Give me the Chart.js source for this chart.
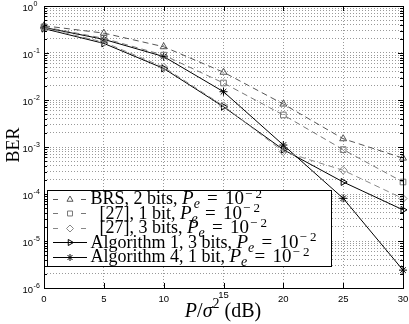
<!DOCTYPE html>
<html><head><meta charset="utf-8">
<script src="https://cdn.jsdelivr.net/npm/chart.js@4/dist/chart.umd.min.js"></script>
<style>html,body{margin:0;padding:0;background:#fff;}canvas{display:block;}</style>
</head><body>
<canvas id="c" width="409" height="324"></canvas>
<script>
// ---- data ----
const snrDb = [0, 5, 10, 15, 20, 25, 30];
const xTickValues = [0, 5, 10, 15, 20, 25, 30];
const yDecades = [0, -1, -2, -3, -4, -5, -6];
const seriesLabels = ['BRS, 2 bits, ', '  [27], 1 bit, ', '  [27], 3 bits, ', 'Algorithm 1, 3 bits, ', 'Algorithm 4, 1 bit, '];
const berBRS2 = [0.38, 0.265, 0.136, 0.039, 0.0082, 0.0015, 0.00058];
const ber27One = [0.36, 0.205, 0.09, 0.023, 0.0048, 0.00088, 0.00018];
const ber27Three = [0.34, 0.17, 0.05, 0.0075, 0.0008, 0.00032, 0.00008];
const berAlg1 = [0.33, 0.16, 0.047, 0.0072, 0.00088, 0.00018, 0.000046];
const berAlg4 = [0.35, 0.195, 0.084, 0.015, 0.0011, 0.000081, 0.0000024];

const pts = arr => snrDb.map((x, i) => ({x, y: arr[i]}));
const styles = [
  {color:'#555', dash:[6,4], pointStyle:'triangle', rotation:0},
  {color:'#777', dash:[6,4], pointStyle:'rect', rotation:0},
  {color:'#888', dash:[6,4], pointStyle:'rectRot', rotation:0},
  {color:'#000', dash:[], pointStyle:'triangle', rotation:90},
  {color:'#000', dash:[], pointStyle:'star', rotation:0},
];
const allData = [berBRS2, ber27One, ber27Three, berAlg1, berAlg4];
const datasets = allData.map((d, i) => ({
  label: seriesLabels[i],
  data: pts(d),
  borderColor: styles[i].color,
  borderWidth: 1,
  borderDash: styles[i].dash,
  pointStyle: styles[i].pointStyle,
  pointRotation: styles[i].rotation,
  pointRadius: 4,
  pointBorderWidth: 1,
  pointBorderColor: styles[i].color,
  pointBackgroundColor: 'rgba(0,0,0,0)',
  fill: false,
  tension: 0,
  clip: false
}));

const SERIF = '"Liberation Serif", "Times New Roman", serif';
const SANS = '"Liberation Sans", Arial, sans-serif';

function drawPe(ctx, x, yb, size){
  ctx.textAlign = 'left'; ctx.textBaseline = 'alphabetic';
  ctx.font = `italic ${size}px ${SERIF}`; ctx.fillText('P', x, yb); x += ctx.measureText('P').width;
  ctx.font = `italic ${Math.round(size*0.72)}px ${SERIF}`; ctx.fillText('e', x, yb + 4); x += ctx.measureText('e').width;
  x += size*0.38;
  ctx.font = `${size}px ${SERIF}`; ctx.fillText('=', x, yb); x += ctx.measureText('=').width + size*0.38;
  ctx.fillText('10', x, yb); x += ctx.measureText('10').width;
  ctx.font = `13px ${SERIF}`; ctx.fillText('\u2212 2', x + 1, yb - 6.5);
}

function marker(ctx, st, x, y){
  ctx.save();
  ctx.setLineDash([]);
  ctx.strokeStyle = st.color; ctx.fillStyle = 'rgba(0,0,0,0)'; ctx.lineWidth = 1;
  Chart.helpers.drawPoint(ctx, {pointStyle: st.pointStyle, rotation: st.rotation, radius: 3.5, borderWidth: 1}, x, y);
  ctx.restore();
}

const decor = {
  id: 'decor',
  afterDatasetsDraw(chart){
    const {ctx, chartArea: a, scales: {x, y}} = chart;
    ctx.save();
    ctx.fillStyle = '#000'; ctx.strokeStyle = '#000'; ctx.lineWidth = 1; ctx.setLineDash([]);
    const L = Math.round(a.left), R = Math.round(a.right), T = Math.round(a.top), B = Math.round(a.bottom);
    // tick marks
    ctx.beginPath();
    for (const v of xTickValues){
      const px = Math.round(x.getPixelForValue(v)) + 0.5;
      ctx.moveTo(px, B); ctx.lineTo(px, B - 5);
      ctx.moveTo(px, T); ctx.lineTo(px, T + 5);
    }
    for (const e of yDecades){
      for (let m = 1; m <= 9; m++){
        const v = m * Math.pow(10, e);
        if (v > 1.0001) continue;
        const py = Math.round(y.getPixelForValue(v)) + 0.5;
        const len = m === 1 ? 5 : 3;
        ctx.moveTo(L, py); ctx.lineTo(L + len, py);
        ctx.moveTo(R, py); ctx.lineTo(R - len, py);
      }
    }
    ctx.stroke();
    // box
    ctx.strokeRect(L + 0.5, T + 0.5, R - L, B - T);
    // x tick labels
    ctx.font = `9.5px ${SANS}`; ctx.textAlign = 'center'; ctx.textBaseline = 'alphabetic';
    for (const v of xTickValues){
      const px = x.getPixelForValue(v);
      ctx.fillText(String(v), px, v === 15 ? 298 : 302);
    }
    // y tick labels
    for (const e of yDecades){
      const py = y.getPixelForValue(Math.pow(10, e));
      ctx.textAlign = 'left';
      ctx.font = `9.5px ${SANS}`;
      ctx.fillText('10', 22.5, py + 5);
      const w = ctx.measureText('10').width;
      ctx.font = `7px ${SANS}`;
      ctx.fillText(e === 0 ? '0' : '-' + (-e), 22.5 + w + 0.5, py);
    }
    // axis titles
    ctx.save();
    ctx.translate(18.5, 145); ctx.rotate(-Math.PI/2);
    ctx.font = `18px ${SERIF}`; ctx.textAlign = 'center';
    ctx.fillText('BER', 0, 0);
    ctx.restore();
    // x title: P/σ² (dB)
    {
      const parts = [
        {t:'P', f:`italic 20px ${SERIF}`, dy:0},
        {t:'/', f:`20px ${SERIF}`, dy:0},
        {t:'\u03C3', f:`italic 20px ${SERIF}`, dy:0},
        {t:'2', f:`14px ${SERIF}`, dy:-9},
        {t:' (dB)', f:`20px ${SERIF}`, dy:0},
      ];
      let tw = 0;
      for (const p of parts){ ctx.font = p.f; p.w = ctx.measureText(p.t).width; tw += p.w; }
      let cx = 223 - tw/2; ctx.textAlign = 'left';
      for (const p of parts){ ctx.font = p.f; ctx.fillText(p.t, cx, 317 + p.dy); cx += p.w; }
    }
    // legend
    const lb = {l: 47.5, t: 190.5, r: 331.5, b: 266.5};
    ctx.fillStyle = '#fff';
    ctx.fillRect(lb.l, lb.t, lb.r - lb.l, lb.b - lb.t);
    ctx.strokeStyle = '#000';
    ctx.strokeRect(lb.l, lb.t, lb.r - lb.l, lb.b - lb.t);
    for (let i = 0; i < datasets.length; i++){
      const st = styles[i];
      const base = 204 + i * 14.5;
      const ly = Math.round(base - 5.5) + 0.5;
      ctx.strokeStyle = st.color; ctx.lineWidth = 1;
      ctx.beginPath();
      if (st.dash.length){
        ctx.moveTo(53, ly); ctx.lineTo(58, ly);
        ctx.moveTo(81, ly); ctx.lineTo(86, ly);
      } else {
        ctx.moveTo(53, ly); ctx.lineTo(87, ly);
      }
      ctx.stroke();
      marker(ctx, st, 70, ly);
      ctx.fillStyle = '#000';
      ctx.font = `18px ${SERIF}`; ctx.textAlign = 'left';
      ctx.fillText(seriesLabels[i], 90.5, base);
      const w = ctx.measureText(seriesLabels[i]).width;
      drawPe(ctx, 90.5 + w, base, 19);
    }
    ctx.restore();
  }
};

const minorTicks = [];
for (const e of yDecades){ for (let m = 1; m <= 9; m++){ const v = m*Math.pow(10,e); if (v <= 1.0001) minorTicks.push(v); } }

new Chart(document.getElementById('c'), {
  type: 'line',
  data: { datasets },
  options: {
    responsive: false,
    animation: false,
    devicePixelRatio: 1,
    layout: { padding: {left: 44, right: 6, top: 6, bottom: 36} },
    plugins: { legend: {display: false}, tooltip: {enabled: false} },
    scales: {
      x: {
        type: 'linear', min: 0, max: 30,
        afterBuildTicks: s => { s.ticks = xTickValues.map(v => ({value: v})); },
        afterFit: s => { s.height = 0; },
        ticks: {display: false},
        grid: {color: 'rgba(0,0,0,0.4)', lineWidth: 1, drawTicks: false},
        border: {display: false, dash: [1, 2]}
      },
      y: {
        type: 'logarithmic', min: 1e-6, max: 1,
        afterBuildTicks: s => { s.ticks = minorTicks.map(v => ({value: v})); },
        afterFit: s => { s.width = 0; },
        ticks: {display: false},
        grid: {color: 'rgba(0,0,0,0.4)', lineWidth: 1, drawTicks: false},
        border: {display: false, dash: [1, 2]}
      }
    }
  },
  plugins: [decor]
});
</script>
</body></html>
